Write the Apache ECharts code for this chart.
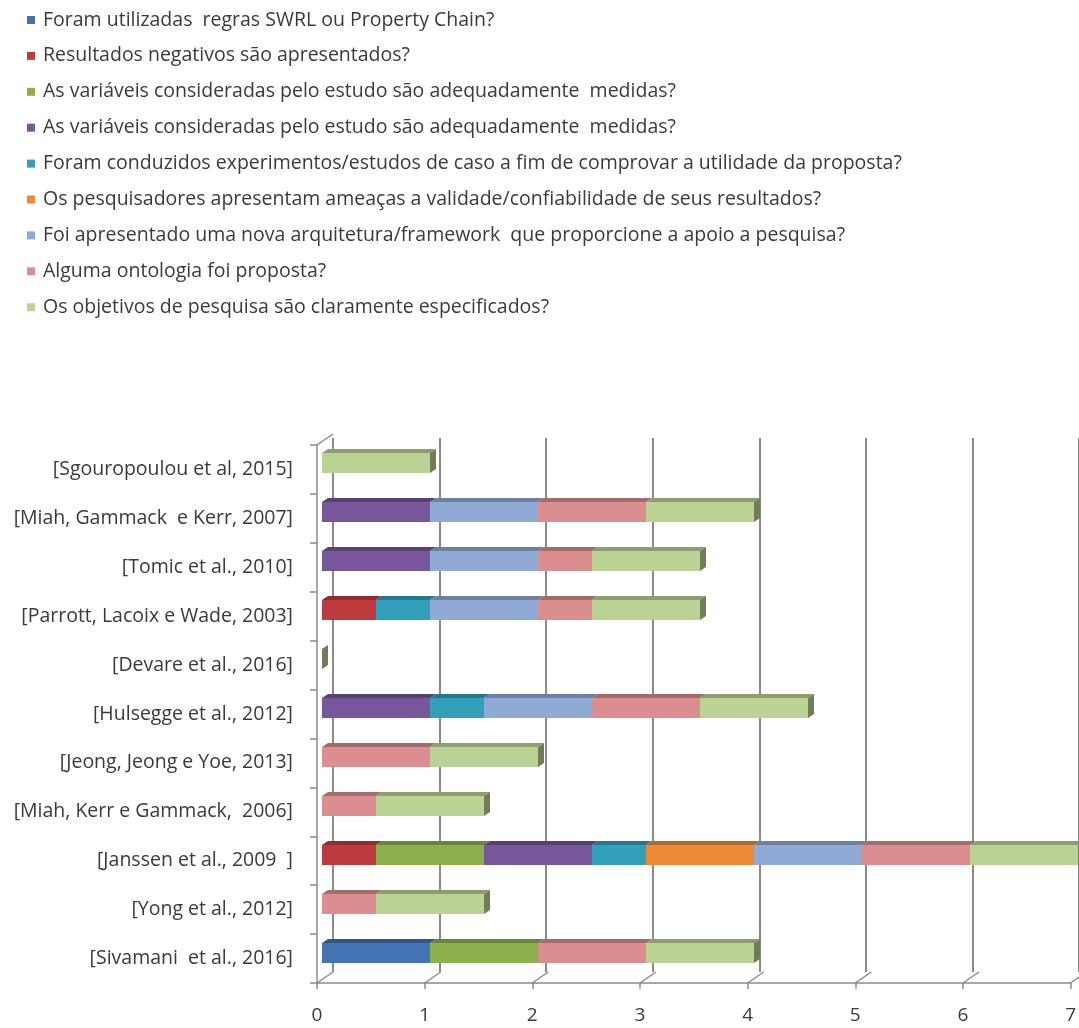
<!DOCTYPE html>
<html>
<head>
<meta charset="utf-8">
<script src="https://cdn.jsdelivr.net/npm/echarts@6/dist/echarts.min.js"></script>
<style>
  html, body { margin: 0; padding: 0; background: #ffffff; }
  #chart { width: 1079px; height: 1028px; }
</style>
</head>
<body>
<div id="chart"></div>
<script>
// Studies, listed from top to bottom
const studies = [
  '[Sgouropoulou et al, 2015]',
  '[Miah, Gammack  e Kerr, 2007]',
  '[Tomic et al., 2010]',
  '[Parrott, Lacoix e Wade, 2003]',
  '[Devare et al., 2016]',
  '[Hulsegge et al., 2012]',
  '[Jeong, Jeong e Yoe, 2013]',
  '[Miah, Kerr e Gammack,  2006]',
  '[Janssen et al., 2009  ]',
  '[Yong et al., 2012]',
  '[Sivamani  et al., 2016]'
];

// Quality questions (stack order, left to right)
const questions = [
  'Foram utilizadas  regras SWRL ou Property Chain?',
  'Resultados negativos são apresentados?',
  'As variáveis consideradas pelo estudo são adequadamente  medidas?',
  'As variáveis consideradas pelo estudo são adequadamente  medidas?\u00a0',
  'Foram conduzidos experimentos/estudos de caso a fim de comprovar a utilidade da proposta?',
  'Os pesquisadores apresentam ameaças a validade/confiabilidade de seus resultados?',
  'Foi apresentado uma nova arquitetura/framework  que proporcione a apoio a pesquisa?',
  'Alguma ontologia foi proposta?',
  'Os objetivos de pesquisa são claramente especificados?'
];

// Scores per study for each question
const swrlRules      = [0, 0, 0, 0,   0, 0,   0, 0,   0,   0,   1];
const negResults     = [0, 0, 0, 0.5, 0, 0,   0, 0,   0.5, 0,   0];
const variablesA     = [0, 0, 0, 0,   0, 0,   0, 0,   1,   0,   1];
const variablesB     = [0, 1, 1, 0,   0, 1,   0, 0,   1,   0,   0];
const experiments    = [0, 0, 0, 0.5, 0, 0.5, 0, 0,   0.5, 0,   0];
const threats        = [0, 0, 0, 0,   0, 0,   0, 0,   1,   0,   0];
const architecture   = [0, 1, 1, 1,   0, 1,   0, 0,   1,   0,   0];
const ontology       = [0, 1, 0.5, 0.5, 0, 1, 1, 0.5, 1,   0.5, 1];
const objectives     = [1, 1, 1, 1,   0, 1,   1, 1,   1,   1,   1];

const valueTicks = [0, 1, 2, 3, 4, 5, 6, 7];

const seriesValues = [swrlRules, negResults, variablesA, variablesB, experiments,
                      threats, architecture, ontology, objectives];

const colors = ['#4473B4', '#BE3B3D', '#8DB04E', '#78569B', '#33A0BB',
                '#EC8A35', '#90AAD6', '#DB8E8F', '#BAD293'];

const FONT = "'Open Sans', sans-serif";
const TEXT = '#3a3a3a';
const LINE = '#8a8a8a';

function shade(hex, f) {
  const n = parseInt(hex.slice(1), 16);
  const r = Math.round(((n >> 16) & 255) * f);
  const g = Math.round(((n >> 8) & 255) * f);
  const b = Math.round((n & 255) * f);
  return 'rgb(' + r + ',' + g + ',' + b + ')';
}

// Stacked segments: [studyIndex, start, end]
const running = studies.map(() => 0);
const segments = seriesValues.map((vals, si) => {
  const isLast = si === seriesValues.length - 1;
  const out = [];
  vals.forEach((v, ci) => {
    const s = running[ci];
    const e = s + v;
    running[ci] = e;
    if (v > 0 || isLast) out.push([ci, s, e]);
  });
  return out;
});

// Draws a bar segment with a bevelled top face (and an end cap on the final segment)
function barRenderer(color, isLast) {
  const topColor = shade(color, 0.75);
  const endColor = shade(color, 0.6);
  return function (params, api) {
    const ci = api.value(0), s = api.value(1), e = api.value(2);
    const a = api.coord([s, ci]);
    const b = api.coord([e, ci]);
    const h = 20, dx = 6, dy = 4;
    const top = a[1] - h / 2, bot = a[1] + h / 2;
    const children = [];
    if (e > s) {
      children.push({
        type: 'rect',
        shape: { x: a[0], y: top, width: b[0] - a[0], height: h },
        style: { fill: color }
      });
      children.push({
        type: 'polygon',
        shape: { points: [[a[0], top], [a[0] + dx, top - dy], [b[0] + dx, top - dy], [b[0], top]] },
        style: { fill: topColor }
      });
    }
    if (isLast) {
      children.push({
        type: 'polygon',
        shape: { points: [[b[0], top], [b[0] + dx, top - dy], [b[0] + dx, bot - dy], [b[0], bot]] },
        style: { fill: endColor }
      });
    }
    return { type: 'group', children: children };
  };
}

const barSeries = questions.map((name, si) => ({
  name: name,
  type: 'custom',
  xAxisIndex: 0,
  yAxisIndex: 0,
  encode: { x: [1, 2], y: 0 },
  itemStyle: { color: colors[si] },
  renderItem: barRenderer(colors[si], si === questions.length - 1),
  data: segments[si],
  z: 3
}));

// Floor edges joining the front axis ticks to the back wall grid lines
const floorSeries = {
  type: 'custom',
  xAxisIndex: 2,
  yAxisIndex: 2,
  encode: { x: 0 },
  silent: true,
  data: valueTicks.map(v => [v]),
  renderItem: function (params, api) {
    const cs = params.coordSys;
    const v = api.value(0);
    const x = api.coord([v, 0])[0];
    const y = cs.y + cs.height;
    const children = [{
      type: 'line',
      shape: { x1: x, y1: y, x2: x + 16, y2: y - 11 },
      style: { stroke: LINE, lineWidth: 1.5 }
    }];
    if (v === 0) {
      children.push({
        type: 'line',
        shape: { x1: x, y1: cs.y, x2: x + 16, y2: cs.y - 11 },
        style: { stroke: LINE, lineWidth: 1.5 }
      });
    }
    return { type: 'group', children: children };
  },
  z: 1
};

const chart = echarts.init(document.getElementById('chart'), null, { renderer: 'canvas' });

chart.setOption({
  backgroundColor: '#ffffff',
  animation: false,
  legend: {
    data: questions,
    orient: 'vertical',
    left: 22,
    top: 5,
    icon: 'rect',
    itemWidth: 8,
    itemHeight: 8,
    itemGap: 15.9,
    selectedMode: false,
    textStyle: { fontFamily: FONT, fontSize: 19.5, lineHeight: 20, color: TEXT, padding: [0, 0, 0, 3] }
  },
  grid: [
    // bars
    { left: 322, top: 438.5, width: 756, height: 539 },
    // back wall
    { left: 333, top: 438, width: 756, height: 534 },
    // front axes
    { left: 317, top: 445, width: 756, height: 538 }
  ],
  xAxis: [
    { gridIndex: 0, type: 'value', min: 0, max: 7, show: false },
    {
      gridIndex: 1, type: 'value', min: 0, max: 7, interval: 1,
      axisLine: { show: false }, axisTick: { show: false }, axisLabel: { show: false },
      splitLine: { show: true, lineStyle: { color: LINE, width: 2 } }
    },
    {
      gridIndex: 2, type: 'value', min: 0, max: 7, interval: 1,
      axisLine: { show: true, lineStyle: { color: LINE, width: 1.5 } },
      axisTick: { show: true, length: 6, lineStyle: { color: LINE, width: 1.5 } },
      axisLabel: { margin: 23, fontFamily: FONT, fontSize: 19, color: TEXT },
      splitLine: { show: false }
    }
  ],
  yAxis: [
    { gridIndex: 0, type: 'category', data: studies, inverse: true, show: false },
    { gridIndex: 1, type: 'value', show: false },
    {
      gridIndex: 2, type: 'category', data: studies, inverse: true,
      axisLine: { show: true, lineStyle: { color: LINE, width: 1.5 } },
      axisTick: { show: true, length: 7, lineStyle: { color: LINE, width: 1.5 } },
      axisLabel: { margin: 24, fontFamily: FONT, fontSize: 19.5, color: TEXT },
      splitLine: { show: false }
    }
  ],
  series: barSeries.concat([floorSeries])
});
</script>
</body>
</html>
